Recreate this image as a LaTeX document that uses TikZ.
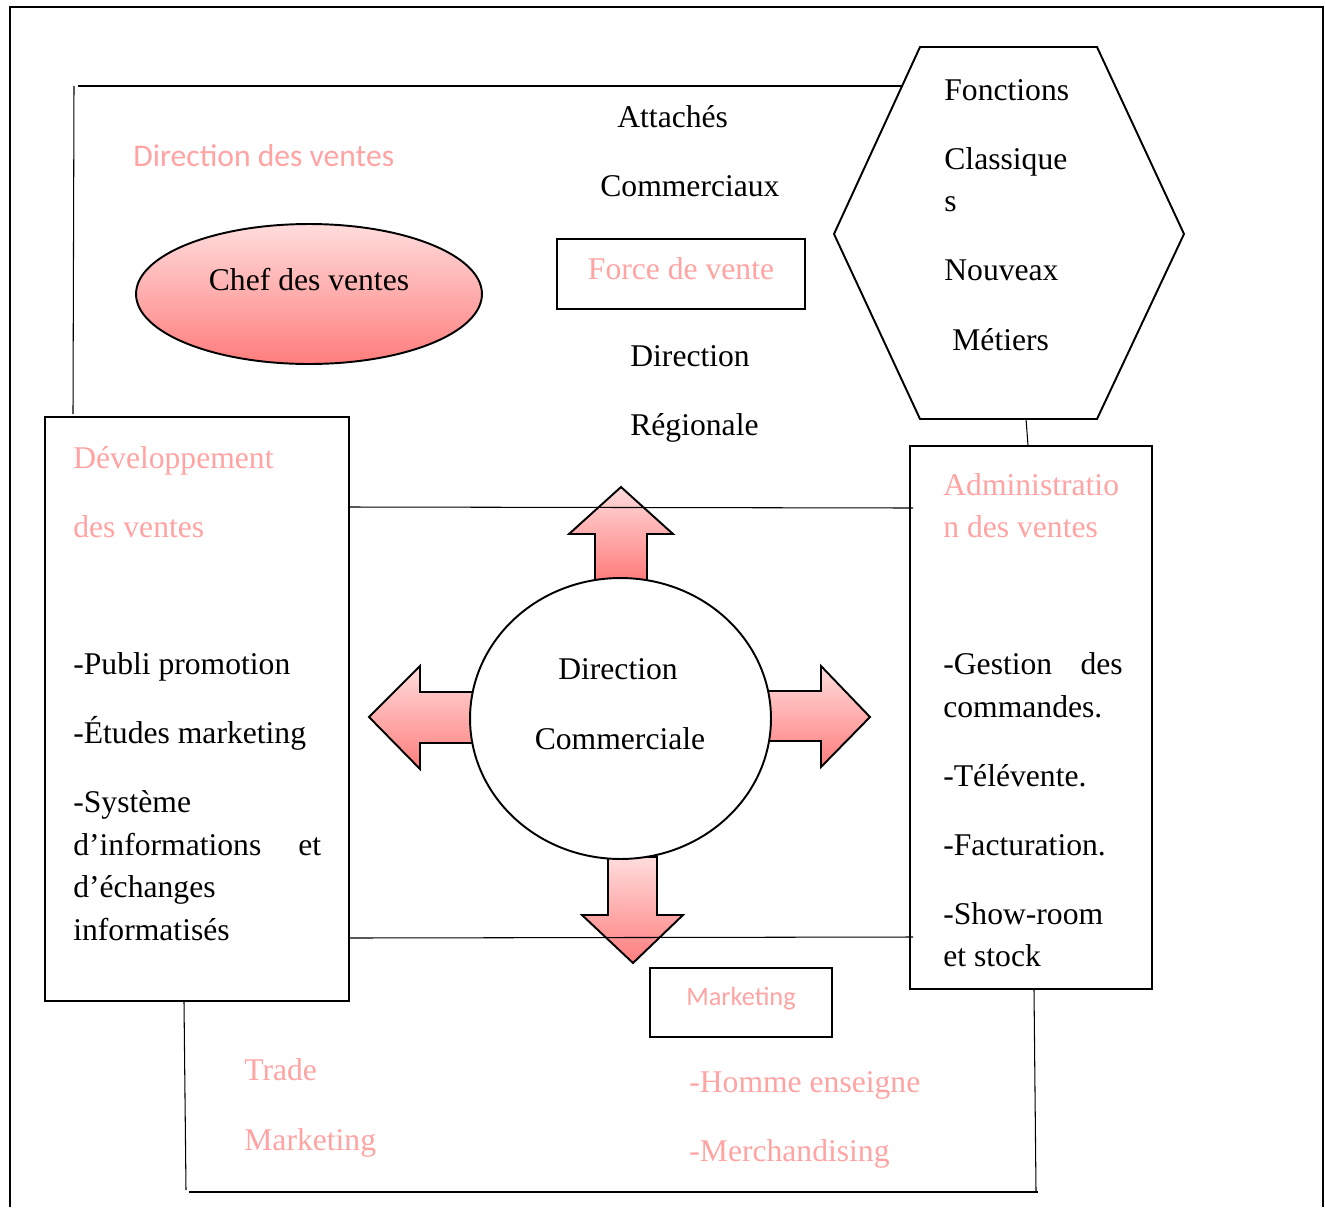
\documentclass[tikz,border=0pt]{standalone}
\usepackage{fontspec}
\setmainfont{Liberation Serif}
\newfontfamily\carl{Carlito}
\usetikzlibrary{shapes.geometric}
\definecolor{pinktxt}{RGB}{255,163,163}
\definecolor{pinklight}{RGB}{255,220,220}
\definecolor{pinkdark}{RGB}{255,125,125}
\begin{document}
\begin{tikzpicture}[x=0.02cm,y=-0.02cm,
  txt/.style={inner sep=0pt, anchor=base west, font=\fontsize{18}{22}\selectfont},
  ctxt/.style={txt, anchor=base},
  ptxt/.style={txt, text=pinktxt},
  stxt/.style={inner sep=0pt, anchor=base west, text=pinktxt, font=\carl\fontsize{18}{22}\selectfont},
  boxframe/.style={draw, line width=1.1pt, rectangle, inner sep=0pt},
  thinline/.style={line width=0.6pt},
  grad/.style={draw, line width=1.1pt, top color=pinklight, bottom color=pinkdark},
]
\useasboundingbox (0,0) rectangle (1325,1207);
% outer frame
\draw[line width=1.2pt] (10,1207) -- (10,7) -- (1323,7) -- (1323,1207);

% boxes
\node[boxframe, minimum width=6.08cm, minimum height=11.68cm] (dev) at (197,709) {};
\node[boxframe, minimum width=4.84cm, minimum height=10.86cm] (admin) at (1031,717.5) {};
\node[boxframe, minimum width=4.96cm, minimum height=1.4cm] (force) at (681,274) {};
\node[boxframe, minimum width=3.64cm, minimum height=1.38cm] (mkt) at (741,1002.5) {};
\node[ellipse, grad, minimum width=6.92cm, minimum height=2.8cm, inner sep=0pt] (chef) at (309,294) {};

% hexagon
\coordinate (h1) at (920,47);
\coordinate (h2) at (1097,47);
\coordinate (h3) at (1184,234);
\coordinate (h4) at (1097,419);
\coordinate (h5) at (920,419);
\coordinate (h6) at (834,234);
\draw[line width=1.1pt] (h1) -- (h2) -- (h3) -- (h4) -- (h5) -- (h6) -- cycle;

% arrows
\draw[grad] (595,580) -- (595,534) -- (569,534) -- (621,487) -- (673,534) -- (647,534) -- (647,580) -- cycle;
\draw[grad] (473,692) -- (420,692) -- (420,666) -- (369,717) -- (420,769) -- (420,743) -- (473,743) -- cycle;
\draw[grad] (768,691) -- (821,691) -- (821,666) -- (870,717) -- (821,767) -- (821,741) -- (768,741) -- cycle;
\draw[grad] (608,857) -- (608,915) -- (582,915) -- (633,963) -- (683,915) -- (657,915) -- (657,857) -- cycle;

% central circle
\node[ellipse, draw, fill=white, line width=1.1pt, minimum width=6.02cm, minimum height=5.62cm, inner sep=0pt] (dc) at (620.5,718.5) {};

% connectors
\coordinate (tl) at (74,86);
\coordinate (tlb) at (73,414);
\coordinate (tr) at (902,86);
\draw[thinline] (tlb) -- (tl);
\draw[thinline] (78,86) -- (tr);
\draw[thinline] (1026,419) -- (admin.north -| 1028,0);
\draw[thinline] (dev.east |- 0,507) -- (913,508);
\draw[thinline] (dev.east |- 0,938) -- (913,937);
\coordinate (bl) at (186,1190);
\coordinate (br) at (1036,1191);
\draw[thinline] (dev.south -| 184,0) -- (bl);
\draw[thinline] (189,1192) -- (1038,1192);
\draw[thinline] (admin.south -| 1034,0) -- (br);

% texts
\node[txt] (t1) at (617,127) {Attachés};
\node[txt] (t2) at (600,196) {Commerciaux};
\node[stxt] (t3) at (133,166) {Direction des ventes};
\node[ctxt] (t4) at (309,290) {Chef des ventes};
\node[ctxt, text=pinktxt] (t5) at (681,279) {Force de vente};
\node[txt] (t6) at (630,366) {Direction};
\node[txt] (t7) at (630,435) {Régionale};

\node[txt] (h_t1) at (944,100) {Fonctions};
\node[txt] (h_t2) at (944,169) {Classique};
\node[txt] (h_t3) at (944,211) {s};
\node[txt] (h_t4) at (944,280) {Nouveax};
\node[txt] (h_t5) at (952,350) {Métiers};

\node[ptxt] (d1) at (73,468) {Développement};
\node[ptxt] (d2) at (73,537) {des ventes};
\node[txt] (d3) at (73,674) {-Publi promotion};
\node[txt] (d4) at (73,743) {-Études marketing};
\node[txt] (d5) at (73,812) {-Système};
\node[txt] (d6) at (73,855) {d’informations};
\node[txt] (d6b) at (298,855) {et};
\node[txt] (d7) at (73,897) {d’échanges};
\node[txt] (d8) at (73,940) {informatisés};

\node[ptxt] (a1) at (943,495) {Administratio};
\node[ptxt] (a2) at (943,537) {n des ventes};
\node[txt] (a3) at (943,674) {-Gestion};
\node[txt, anchor=base east] (a3b) at (1123,674) {des};
\node[txt] (a4) at (943,717) {commandes.};
\node[txt] (a5) at (943,786) {-Télévente.};
\node[txt] (a6) at (943,855) {-Facturation.};
\node[txt] (a7) at (943,924) {-Show-room};
\node[txt] (a8) at (943,966) {et stock};

\node[ctxt] (c1) at (618,679) {Direction};
\node[ctxt] (c2) at (620,749) {Commerciale};

\node[inner sep=0pt, anchor=base, text=pinktxt, font=\carl\fontsize{15}{18}\selectfont] (m1) at (741,1005) {Marketing};

\node[ptxt] (b1) at (244,1080) {Trade};
\node[ptxt] (b2) at (244,1150) {Marketing};
\node[ptxt] (b3) at (689,1092) {-Homme enseigne};
\node[ptxt] (b4) at (689,1161) {-Merchandising};
\end{tikzpicture}
\end{document}
